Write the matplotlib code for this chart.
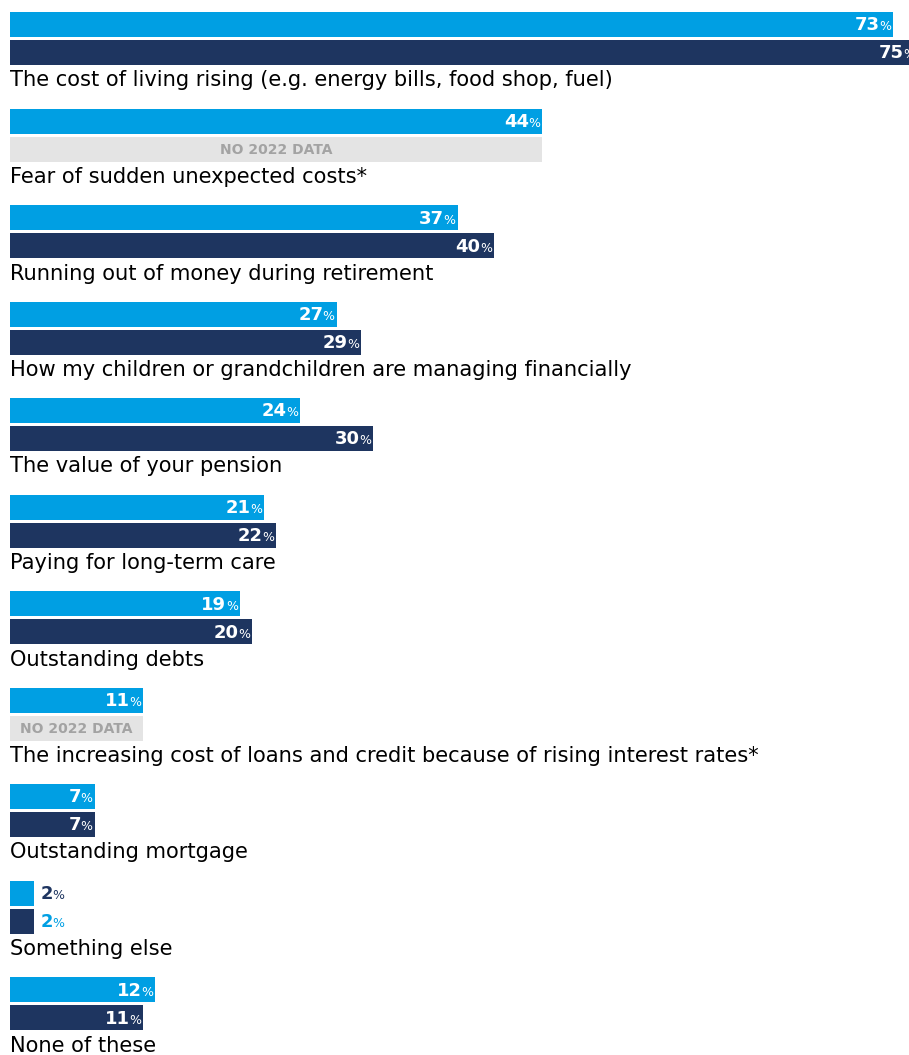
import matplotlib.pyplot as plt

# Survey: biggest financial worries, 2023 vs 2022 (percent of respondents)
categories = [
    "The cost of living rising (e.g. energy bills, food shop, fuel)",
    "Fear of sudden unexpected costs*",
    "Running out of money during retirement",
    "How my children or grandchildren are managing financially",
    "The value of your pension",
    "Paying for long-term care",
    "Outstanding debts",
    "The increasing cost of loans and credit because of rising interest rates*",
    "Outstanding mortgage",
    "Something else",
    "None of these",
]
values_2023 = [73, 44, 37, 27, 24, 21, 19, 11, 7, 2, 12]
values_2022 = [75, None, 40, 29, 30, 22, 20, None, 7, 2, 11]
no_data_text = "NO 2022 DATA"

LIGHT = "#009FE3"
NAVY = "#1E3560"
GREY = "#E4E4E4"
GREY_TXT = "#A3A3A3"

W, H = 909, 1055
PX_PER_PCT = 12.1
X0 = 10            # left edge of bars in pixels
TOP0 = 12          # top of first group
PITCH = 96.5       # vertical distance between groups
BAR_H = 25
GAP = 3
PT = 72 / 100      # pixels -> points at dpi 100

plt.rcParams['font.family'] = ['DejaVu Sans']

fig = plt.figure(figsize=(W / 100, H / 100), dpi=100)
ax = fig.add_axes([0, 0, 1, 1])
ax.set_xlim(-X0 / PX_PER_PCT, (W - X0) / PX_PER_PCT)
ax.set_ylim(H, 0)
ax.axis('off')


def value_label(x, yc, v, color, inside=True):
    # bold number followed by a small percent sign, sharing one baseline
    yb = yc + 6
    if inside:
        ax.annotate('%', (x, yb), xytext=(-2 * PT, 0), textcoords='offset points',
                    ha='right', va='baseline', fontsize=9, color=color,
                    annotation_clip=False)
        ax.annotate(str(v), (x, yb), xytext=(-13.5 * PT, 0), textcoords='offset points',
                    ha='right', va='baseline', fontsize=13, fontweight='bold',
                    color=color, annotation_clip=False)
    else:
        ax.annotate(str(v), (x, yb), xytext=(6 * PT, 0), textcoords='offset points',
                    ha='left', va='baseline', fontsize=13, fontweight='bold',
                    color=color, annotation_clip=False)
        ax.annotate('%', (x, yb), xytext=(18.5 * PT, 0), textcoords='offset points',
                    ha='left', va='baseline', fontsize=9, color=color,
                    annotation_clip=False)


for i, cat in enumerate(categories):
    top = TOP0 + i * PITCH
    y1 = top + BAR_H / 2
    y2 = top + BAR_H + GAP + BAR_H / 2
    v1 = values_2023[i]
    v2 = values_2022[i]

    ax.barh(y1, v1, height=BAR_H, left=0, color=LIGHT, edgecolor='none')
    small = v1 < 5
    # short bars carry their labels outside, with swapped colours
    value_label(v1, y1, v1, NAVY if small else 'white', inside=not small)

    if v2 is None:
        ax.barh(y2, v1, height=BAR_H, left=0, color=GREY, edgecolor='none')
        ax.text(v1 / 2, y2 + 1, no_data_text, ha='center', va='center',
                fontsize=10, fontweight='bold', color=GREY_TXT)
    else:
        ax.barh(y2, v2, height=BAR_H, left=0, color=NAVY, edgecolor='none')
        value_label(v2, y2, v2, LIGHT if v2 < 5 else 'white', inside=v2 >= 5)

    ax.text(0, top + 74.5, cat, ha='left', va='baseline', fontsize=15.1,
            color='black')

fig.savefig('out.png', dpi=100)
